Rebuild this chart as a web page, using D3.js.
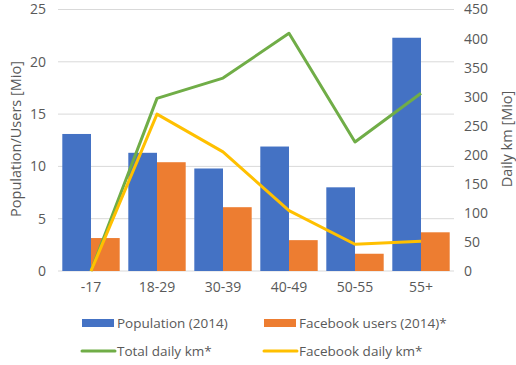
<!DOCTYPE html>
<html>
  <head>
    <style>
      body { margin: 0; background: #fff; }
      svg text { font-family: "Open Sans", sans-serif; fill: #595959; }
    </style>
  </head>
  <body>
    <svg id="chart" width="516" height="365"></svg>

    <script src="https://d3js.org/d3.v7.min.js"></script>
    <script type="text/javascript">
      const categories = ["-17", "18-29", "30-39", "40-49", "50-55", "55+"];
      const population = [13.1, 11.3, 9.8, 11.9, 8.0, 22.3];
      const fbUsers = [3.15, 10.4, 6.1, 2.95, 1.65, 3.7];
      const totalKm = [0, 297, 332, 409, 222, 306];
      const fbKm = [0, 270, 205, 104, 46, 51];
      const leftTicks = [0, 5, 10, 15, 20, 25];
      const rightTicks = [0, 50, 100, 150, 200, 250, 300, 350, 400, 450];

      (function() {
        const svg = d3.select("#chart");
        const left = 58, right = 454, top = 9.5, bottom = 271;

        const x = d3.scaleBand().domain(categories).range([left, right]);
        const xs = d3.scaleBand().domain(["pop", "fb"]).range([0, x.bandwidth()]).paddingOuter(0.15);
        const y = d3.scaleLinear().domain([0, 25]).range([bottom, top]);
        const y2 = d3.scaleLinear().domain([0, 450]).range([bottom, top]);

        // grid
        svg.append("g").selectAll("line")
          .data(leftTicks)
          .enter().append("line")
          .attr("x1", left).attr("x2", right)
          .attr("y1", d => y(d)).attr("y2", d => y(d))
          .attr("stroke", "#d9d9d9").attr("stroke-width", 1);

        // left axis
        const ya = svg.append("g")
          .attr("transform", "translate(" + (left - 12) + ",0)")
          .call(d3.axisLeft(y).tickValues(leftTicks).tickSize(0).tickPadding(0));
        ya.select(".domain").remove();
        ya.selectAll("text").style("font-size", "14px").attr("fill", "#595959");

        // right axis
        const y2a = svg.append("g")
          .attr("transform", "translate(" + (right + 10) + ",0)")
          .call(d3.axisRight(y2).tickValues(rightTicks).tickSize(0).tickPadding(0));
        y2a.select(".domain").remove();
        y2a.selectAll("text").style("font-size", "14px").attr("fill", "#595959");

        // x axis
        const xa = svg.append("g")
          .attr("transform", "translate(0," + bottom + ")")
          .call(d3.axisBottom(x).tickSize(0).tickPadding(11));
        xa.select(".domain").remove();
        xa.selectAll("text").style("font-size", "14px").attr("fill", "#595959");

        // bars
        const groups = svg.append("g").selectAll("g")
          .data(categories)
          .enter().append("g")
          .attr("transform", d => "translate(" + x(d) + ",0)");

        groups.append("rect")
          .attr("x", xs("pop"))
          .attr("width", xs.bandwidth())
          .attr("y", (d, i) => y(population[i]))
          .attr("height", (d, i) => bottom - y(population[i]))
          .attr("fill", "#4472c4");

        groups.append("rect")
          .attr("x", xs("fb"))
          .attr("width", xs.bandwidth())
          .attr("y", (d, i) => y(fbUsers[i]))
          .attr("height", (d, i) => bottom - y(fbUsers[i]))
          .attr("fill", "#ed7d31");

        // lines
        const line = d3.line()
          .x((d, i) => x(categories[i]) + x.bandwidth() / 2)
          .y(d => y2(d));

        svg.append("path").datum(totalKm)
          .attr("d", line)
          .attr("fill", "none").attr("stroke", "#70ad47")
          .attr("stroke-width", 3).attr("stroke-linejoin", "round");

        svg.append("path").datum(fbKm)
          .attr("d", line)
          .attr("fill", "none").attr("stroke", "#ffc000")
          .attr("stroke-width", 3).attr("stroke-linejoin", "round");

        // axis titles
        svg.append("text")
          .attr("transform", "translate(21,139) rotate(-90)")
          .attr("text-anchor", "middle")
          .style("font-size", "14.5px")
          .text("Population/Users [Mio]");

        svg.append("text")
          .attr("transform", "translate(512,139) rotate(-90)")
          .attr("text-anchor", "middle")
          .style("font-size", "14.5px")
          .text("Daily km [Mio]");

        // legend
        const legend = [
          { name: "Population (2014)", color: "#4472c4", type: "rect", x: 82, y: 323 },
          { name: "Facebook users (2014)*", color: "#ed7d31", type: "rect", x: 264, y: 323 },
          { name: "Total daily km*", color: "#70ad47", type: "line", x: 82, y: 351 },
          { name: "Facebook daily km*", color: "#ffc000", type: "line", x: 264, y: 351 }
        ];

        const item = svg.append("g").selectAll("g")
          .data(legend)
          .enter().append("g")
          .attr("transform", d => "translate(" + d.x + "," + d.y + ")");

        item.filter(d => d.type === "rect").append("rect")
          .attr("x", 0).attr("y", -4).attr("width", 32).attr("height", 8)
          .attr("fill", d => d.color);

        item.filter(d => d.type === "line").append("line")
          .attr("x1", 0).attr("x2", 33).attr("y1", 0).attr("y2", 0)
          .attr("stroke", d => d.color).attr("stroke-width", 3)
          .attr("stroke-linecap", "round");

        item.append("text")
          .attr("x", 35).attr("dy", "0.35em")
          .style("font-size", "13.5px")
          .text(d => d.name);
      })()
    </script>
  </body>
</html>
